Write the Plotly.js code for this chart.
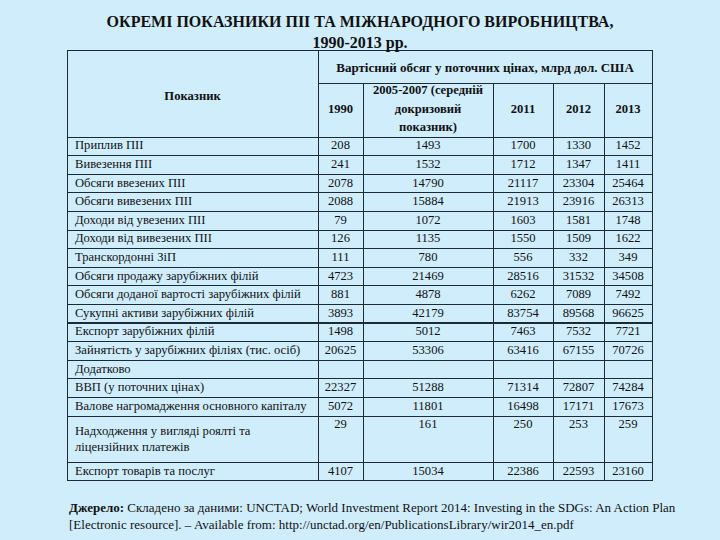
<!DOCTYPE html>
<html><head><meta charset="utf-8">
<script src="https://cdn.plot.ly/plotly-3.0.1.min.js"></script>
<style>
html,body{margin:0;padding:0;background:#d0edfb}
/* lift cell text so it sits in the middle of the short rows */
#chart .cell-text{transform:translateY(-5px)}
</style>
</head><body><div id="chart" style="width:720px;height:540px"></div>
<script>
const indicators = [
  "Приплив ПІІ","Вивезення ПІІ","Обсяги ввезених ПІІ","Обсяги вивезених ПІІ",
  "Доходи від увезених ПІІ","Доходи від вивезених ПІІ","Транскордонні ЗіП",
  "Обсяги продажу зарубіжних філій","Обсяги доданої вартості зарубіжних філій",
  "Сукупні активи зарубіжних філій","Експорт зарубіжних філій",
  "Зайнятість у зарубіжних філіях (тис. осіб)","Додатково","ВВП (у поточних цінах)",
  "Валове нагромадження основного капіталу","Надходження у вигляді роялті та<br>ліцензійних платежів",
  "Експорт товарів та послуг"
];
const v1990 = ["208","241","2078","2088","79","126","111","4723","881","3893","1498","20625","","22327","5072","29","4107"];
const v2005_2007 = ["1493","1532","14790","15884","1072","1135","780","21469","4878","42179","5012","53306","","51288","11801","161","15034"];
const v2011 = ["1700","1712","21117","21913","1603","1550","556","28516","6262","83754","7463","63416","","71314","16498","250","22386"];
const v2012 = ["1330","1347","23304","23916","1581","1509","332","31532","7089","89568","7532","67155","","72807","17171","253","22593"];
const v2013 = ["1452","1411","25464","26313","1748","1622","349","34508","7492","96625","7721","70726","","74284","17673","259","23160"];
// header text, split into 3 sub-lines per year column
const headPokaznyk = ["Показник"];
const head1990 = ["","1990",""];
const head2005 = ["2005-2007 (середній","докризовий","показник)"];
const head2011 = ["","2011",""];
const head2012 = ["","2012",""];
const head2013 = ["","2013",""];
const groupHeader = ["Вартісний обсяг у поточних цінах, млрд дол. США"];
const titleText = "ОКРЕМІ ПОКАЗНИКИ ПІІ ТА МІЖНАРОДНОГО ВИРОБНИЦТВА,<br>1990-2013 рр.";
const sourceText = "<b>Джерело:</b> Складено за даними: UNCTAD; World Investment Report 2014: Investing in the SDGs: An Action Plan<br>[Electronic resource]. – Available from: http://unctad.org/en/PublicationsLibrary/wir2014_en.pdf";

const W = 720, H = 540;
const BG = "#d0edfb", LINE = "#1e2a36", TXT = "#111111", CLEAR = "rgba(0,0,0,0)";
const serif = "Liberation Serif";
const L = 67, R = 652, colW = [251,45,130,60,51,48];
const EMPTY_HEAD = 16; // plotly's reserved height for a table with no header
const xd = (a,b)=>[a/W, b/W];
const yd = (top,bottom)=>[1-bottom/H, 1-top/H];
const x1 = L + colW[0];
const F = {family: serif, size: 12.6, color: TXT};
const FB = {family: serif, size: 12.6, color: TXT, weight: 700};
const FG = {family: serif, size: 13, color: TXT, weight: 700};
const noHead = {values: [], fill: {color: CLEAR}, line: {color: CLEAR, width: 1}};
const clearCells = (vals, font, h, extra) => Object.assign(
  {values: vals, align: "center", height: h, fill: {color: CLEAR}, line: {color: CLEAR, width: 1}, font: font}, extra || {});

// grid boxes of the merged header
const gridPok = {
  type: "table", domain: {x: xd(L,x1), y: yd(50,137)},
  header: {values: [""], height: 87, fill: {color: BG}, line: {color: LINE, width: 1}, font: F},
  cells: {values: []}
};
const gridGroup = {
  type: "table", domain: {x: xd(x1,R), y: yd(50,83)},
  header: {values: [""], height: 33, fill: {color: BG}, line: {color: LINE, width: 1}, font: F},
  cells: {values: []}
};
const gridYears = {
  type: "table", domain: {x: xd(x1,R), y: yd(83,137)}, columnwidth: colW.slice(1),
  header: {values: ["","","","",""], height: 54, fill: {color: BG}, line: {color: LINE, width: 1}, font: F},
  cells: {values: []}
};
const body = {
  type: "table",
  domain: {x: xd(L,R), y: yd(137-EMPTY_HEAD,540)},
  columnwidth: colW,
  header: noHead,
  cells: {
    values: [indicators, v1990, v2005_2007, v2011, v2012, v2013],
    align: ["left","center","center","center","center","center"],
    height: 18.6,
    fill: {color: BG}, line: {color: LINE, width: 1}, font: F
  }
};
// header texts (transparent tables laid over the grid)
const textGroup = {
  type: "table", domain: {x: xd(x1,R), y: yd(43,130)},
  header: noHead, cells: clearCells([groupHeader], FG, 33)
};
const textPok = {
  type: "table", domain: {x: xd(L,x1), y: yd(71.5,160)},
  header: noHead, cells: clearCells([headPokaznyk], FB, 18)
};
const textYears = {
  type: "table", domain: {x: xd(x1,R), y: yd(65.6,170)}, columnwidth: colW.slice(1),
  header: noHead, cells: clearCells([head1990, head2005, head2011, head2012, head2013], FB, 18.5)
};

const layout = {
  width: W, height: H,
  margin: {l:0, r:0, t:0, b:0},
  paper_bgcolor: BG, plot_bgcolor: BG,
  title: {text: "<b>"+titleText+"</b>", x: 0.5, xanchor: "center", y: 1-27/H, yanchor: "top",
          font: {family: serif, size: 16, color: TXT}},
  annotations: [{
    text: sourceText, xref: "paper", yref: "paper", x: L/W, y: 1-498/H,
    xanchor: "left", yanchor: "top", align: "left", showarrow: false,
    font: {family: serif, size: 13, color: TXT}
  }]
};
Plotly.newPlot("chart", [gridPok, gridGroup, gridYears, body, textGroup, textPok, textYears], layout, {displayModeBar: false, staticPlot: true});
</script>
</body></html>
